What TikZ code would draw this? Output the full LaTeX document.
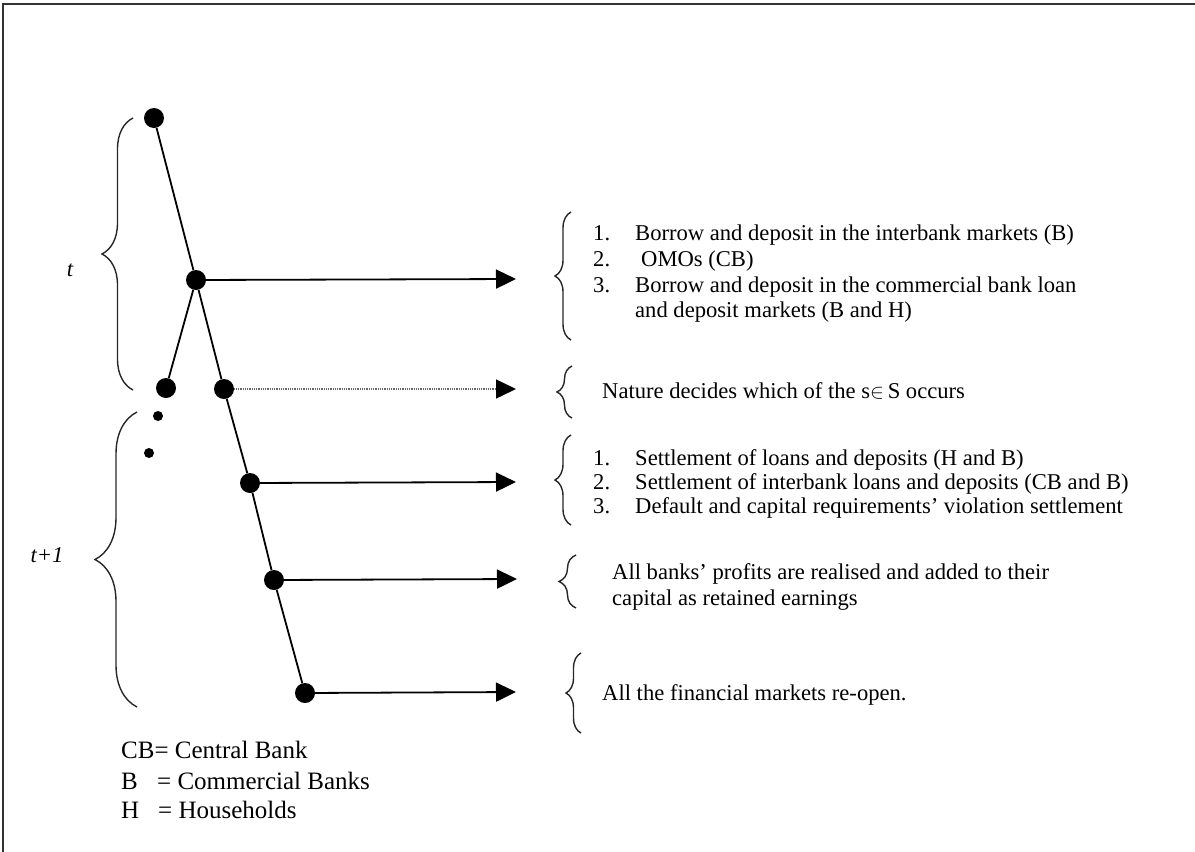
\documentclass[tikz,border=0pt]{standalone}
\usepackage{fontspec}
\setmainfont{Liberation Serif}
\usetikzlibrary{arrows.meta,decorations.pathreplacing}
\begin{document}
\begin{tikzpicture}[x=1pt,y=-1pt,
 dot/.style={circle,fill=black,inner sep=0pt,minimum size=20pt},
 sdot/.style={circle,fill=black,inner sep=0pt,minimum size=10pt},
 edge/.style={line width=1.8pt},
 arr/.style={line width=1.8pt,-{Triangle[length=20pt,width=19pt]}},
 darr/.style={line width=1.5pt,black!60,dash pattern=on 1pt off 0.8pt,-{Triangle[length=20pt,width=19pt,color=black]}},
 brc/.style={decorate,decoration={brace,amplitude=#1},line width=1.4pt,draw=black!85},
 txt/.style={anchor=base west,inner sep=0pt,font=\fontsize{22.6}{25.7}\selectfont},
 lgd/.style={anchor=base west,inner sep=0pt,font=\fontsize{25}{29}\selectfont},
 lbl/.style={inner sep=0pt,font=\fontsize{22.6}{25.7}\selectfont\itshape},
]
\useasboundingbox (0,0) rectangle (1195,852);
\draw[line width=1.2pt,black!80] (3,852) -- (3,4) -- (1195,4);

% tree nodes
\node[dot] (A) at (154,118) {};
\node[dot] (B) at (196,280) {};
\node[dot] (C) at (166,388) {};
\node[dot] (D) at (224,389) {};
\node[dot] (E) at (250,483) {};
\node[dot] (F) at (274,580) {};
\node[dot] (G) at (305,693) {};
\node[sdot] (s1) at (158,416) {};
\node[sdot] (s2) at (149,453) {};

\draw[edge] (A) -- (B);
\draw[edge] (B) -- (C);
\draw[edge] (B) -- (D);
\draw[edge] (D) -- (E);
\draw[edge] (E) -- (F);
\draw[edge] (F) -- (G);

% arrow ends
\coordinate (eB) at (516,279);
\coordinate (eD) at (516,389);
\coordinate (eE) at (516,482);
\coordinate (eF) at (517,579);
\coordinate (eG) at (516,692);
\draw[arr] (B) -- (eB);
\draw[darr] (D) -- (eD);
\draw[arr] (E) -- (eE);
\draw[arr] (F) -- (eF);
\draw[arr] (G) -- (eG);

% left braces
\draw[brc=31pt] (133,390) -- (133,118);
\draw[brc=42pt] (137,707) -- (137,412);
\node[lbl] (lt) at (70,270) {t};
\node[lbl] (lt1) at (47,555) {t+1};

% right braces
\draw[brc=16pt] (571,340) -- (571,212);
\draw[brc=15pt] (572,418) -- (572,366);
\draw[brc=16pt] (571,525) -- (571,435);
\draw[brc=17pt] (576,608) -- (576,555);
\draw[brc=15pt] (581,733) -- (581,653);

% block 1
\node[txt] (n11) at (593,240.5) {1.};
\node[txt] (t11) at (635,240.5) {Borrow and deposit in the interbank markets (B)};
\node[txt] (n12) at (593,266.5) {2.};
\node[txt] (t12) at (641,266.5) {OMOs (CB)};
\node[txt] (n13) at (593,292.5) {3.};
\node[txt] (t13) at (635,292.5) {Borrow and deposit in the commercial bank loan};
\node[txt] (t14) at (635,317.5) {and deposit markets (B and H)};

% nature
\node[txt] (nat) at (602,398.5) {Nature decides which of the s$\in$\,S occurs};

% block 3
\node[txt] (n31) at (593,465.5) {1.};
\node[txt] (t31) at (635,465.5) {Settlement of loans and deposits (H and B)};
\node[txt] (n32) at (593,489.5) {2.};
\node[txt] (t32) at (635,489.5) {Settlement of interbank loans and deposits (CB and B)};
\node[txt] (n33) at (593,513.5) {3.};
\node[txt] (t33) at (635,513.5) {Default and capital requirements’ violation settlement};

% block 4
\node[txt] (t41) at (612,579.5) {All banks’ profits are realised and added to their};
\node[txt] (t42) at (612,605.5) {capital as retained earnings};

% block 5
\node[txt] (t51) at (602,700.5) {All the financial markets re-open.};

% legend
\node[lgd] (l1) at (121,758.5) {CB= Central Bank};
\node[lgd] (l2) at (121,789.5) {\makebox[36pt][l]{B}= Commercial Banks};
\node[lgd] (l3) at (121,818.5) {\makebox[37pt][l]{H}= Households};
\end{tikzpicture}
\end{document}
